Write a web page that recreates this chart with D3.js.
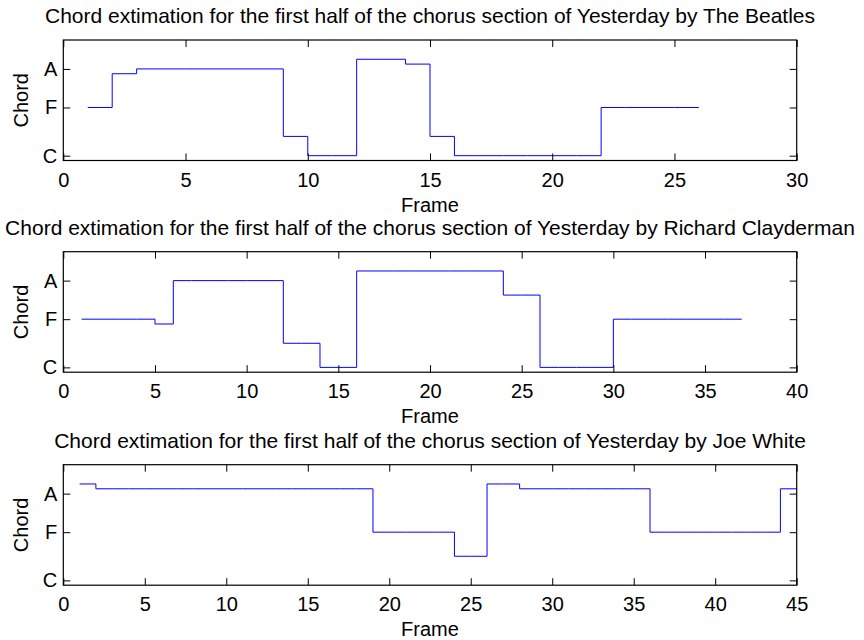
<!DOCTYPE html>
<html>
<head>
<meta charset="utf-8">
<script src="https://cdn.jsdelivr.net/npm/d3@7"></script>
<style>
  body { margin: 0; background: #fff; }
  text { font-family: "Liberation Sans", Arial, sans-serif; fill: #000; }
</style>
</head>
<body>
<svg id="chart"></svg>
<script>
// chord index per frame (C = 1, F = 6, A = 10), frames start at 1
let beatles = [6, 9.5, 10, 10, 10, 10, 10, 10, 3, 1, 1, 11, 11, 10.5, 3,
  1, 1, 1, 1, 1, 1, 6, 6, 6, 6, 6];
let clayderman = [6, 6, 6, 6, 5.5, 10, 10, 10, 10, 10, 10, 3.5, 3.5, 1, 1,
  11, 11, 11, 11, 11, 11, 11, 11, 8.5, 8.5, 1, 1, 1, 1, 6, 6, 6, 6, 6, 6, 6, 6];
let joeWhite = [11, 10.5, 10.5, 10.5, 10.5, 10.5, 10.5, 10.5, 10.5, 10.5, 10.5,
  10.5, 10.5, 10.5, 10.5, 10.5, 10.5, 10.5, 6, 6, 6, 6, 6, 3.5, 3.5, 11, 11,
  10.5, 10.5, 10.5, 10.5, 10.5, 10.5, 10.5, 10.5, 6, 6, 6, 6, 6, 6, 6, 6, 10.5, 10.5];

let titles = [
  "Chord extimation for the first half of the chorus section of Yesterday by The Beatles",
  "Chord extimation for the first half of the chorus section of Yesterday by Richard Clayderman",
  "Chord extimation for the first half of the chorus section of Yesterday by Joe White"
];
let xMaxes = [30, 40, 45];
let chordTicks = [1, 6, 10];
let chordNames = ["C", "F", "A"];

let width = 864;
let height = 640;
let left = 63.3;
let right = 796.7;
let panelTops = [40, 251.7, 464.7];
let panelHeight = 120.5;
let fontSize = 20;
let titleSize = 21;

let svg = d3.select("#chart").attr("width", width).attr("height", height);

let drawPanel = (values, i) => {
  let top = panelTops[i];
  let bottom = top + panelHeight;
  let points = values.map((v, k) => [k + 1, v]);

  let xScale = d3.scaleLinear().domain([0, xMaxes[i]]).range([left, right]);
  let yScale = d3.scaleLinear().domain([0.5, 13]).range([bottom, top]);
  let xTicks = d3.range(0, xMaxes[i] + 1, 5);

  let g = svg.append("g");

  // stairs line
  let line = d3.line()
    .x((d) => xScale(d[0]))
    .y((d) => yScale(d[1]))
    .curve(d3.curveStepAfter);

  g.append("path")
    .datum(points)
    .attr("d", line)
    .attr("fill", "none")
    .attr("stroke", "#0000ff")
    .attr("stroke-width", 1);

  let xAxis = d3.axisBottom(xScale).tickValues(xTicks).tickSizeInner(-7).tickSizeOuter(0).tickPadding(12);
  let xTop = d3.axisTop(xScale).tickValues(xTicks).tickSizeInner(-7).tickSizeOuter(0).tickFormat("");
  let yAxis = d3.axisLeft(yScale).tickValues(chordTicks).tickSizeInner(-7).tickSizeOuter(0).tickPadding(6)
    .tickFormat((d, k) => chordNames[k]);
  let yRight = d3.axisRight(yScale).tickValues(chordTicks).tickSizeInner(-7).tickSizeOuter(0).tickFormat("");

  let axes = [
    g.append("g").attr("transform", "translate(0," + bottom + ")").call(xAxis),
    g.append("g").attr("transform", "translate(0," + top + ")").call(xTop),
    g.append("g").attr("transform", "translate(" + left + ",0)").call(yAxis),
    g.append("g").attr("transform", "translate(" + right + ",0)").call(yRight)
  ];
  axes.forEach((a) => {
    a.select(".domain").remove();
    a.selectAll("line").attr("stroke", "#000");
    a.selectAll("text").style("font-size", fontSize + "px").attr("fill", "#000")
      .style("font-family", "'Liberation Sans', Arial, sans-serif");
  });

  g.append("rect")
    .attr("x", left).attr("y", top)
    .attr("width", right - left).attr("height", bottom - top)
    .attr("fill", "none").attr("stroke", "#000").attr("stroke-width", 1.2);

  g.append("text")
    .attr("x", (left + right) / 2).attr("y", top - 17)
    .attr("text-anchor", "middle")
    .style("font-size", titleSize + "px")
    .text(titles[i]);

  g.append("text")
    .attr("x", (left + right) / 2).attr("y", bottom + 51)
    .attr("text-anchor", "middle")
    .style("font-size", fontSize + "px")
    .text("Frame");

  g.append("text")
    .attr("transform", "translate(28," + (top + bottom) / 2 + ") rotate(-90)")
    .attr("text-anchor", "middle")
    .style("font-size", fontSize + "px")
    .text("Chord");
};

[beatles, clayderman, joeWhite].forEach(drawPanel);
</script>
</body>
</html>
